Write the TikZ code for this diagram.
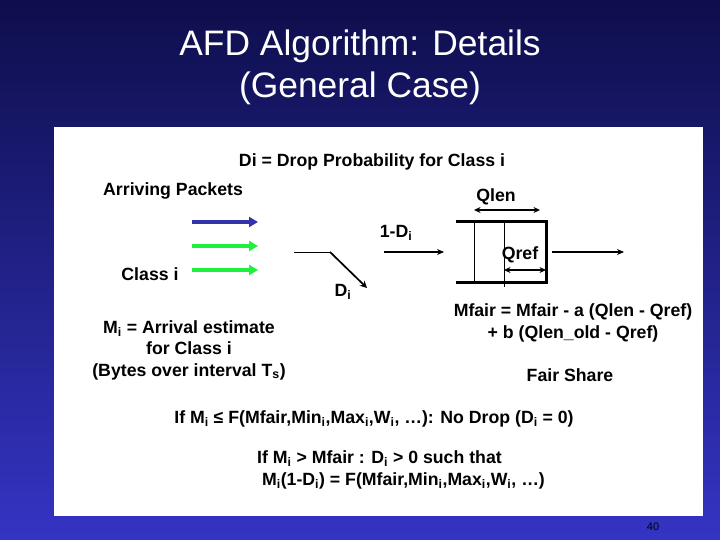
\documentclass[tikz,border=0pt]{standalone}
\usepackage{fontspec}
\setmainfont{Liberation Sans}
\usetikzlibrary{arrows.meta,positioning}
\definecolor{slidetop}{RGB}{14,14,76}
\definecolor{slidebot}{RGB}{52,52,196}
\definecolor{pktblue}{RGB}{52,52,170}
\definecolor{pktgreen}{RGB}{30,240,60}
\tikzset{
  txt/.style={font=\fontsize{17.7pt}{21.5pt}\selectfont\bfseries,align=center,inner sep=0pt},
  head/.style={font=\fontsize{35.4pt}{42pt}\selectfont,text=white,align=center,inner sep=0pt},
  pkt/.style={line width=3.4pt,-{Triangle[length=9pt,width=10pt]}},
  thin arrow/.style={line width=1.1pt,-{Stealth[length=7pt,width=6pt]}},
  both arrow/.style={line width=1.6pt,{Stealth[length=6.5pt,width=6pt]}-{Stealth[length=6.5pt,width=6pt]}},
  wall/.style={line width=3pt}
}
\begin{document}
\begin{tikzpicture}[x=1pt,y=-1pt]
\useasboundingbox (0,0) rectangle (720,540);
\shade[top color=slidetop,bottom color=slidebot] (0,0) rectangle (720,540);
\fill[white] (54,127) rectangle (703,516);
% title
\node[head] (title) at (360,67) {AFD Algorithm: Details\\(General Case)};
% labels
\node[txt] (drop) at (372,162) {Di = Drop Probability for Class i};
\node[txt,anchor=west] (arriving) at (103,191) {Arriving Packets};
\node[txt] (qlen) at (496,197) {Qlen};
\node[txt] (oneminus) at (396,233) {1-D\textsubscript{i}};
\node[txt] (qref) at (520,255) {Qref};
\node[txt] (classi) at (150,274) {Class i};
\node[txt] (di) at (343,292) {D\textsubscript{i}};
\node[txt] (arrival) at (189,350) {M\textsubscript{i} = Arrival estimate\\for Class i\\(Bytes over interval T\textsubscript{s})};
\node[txt] (mfair) at (573,323) {Mfair = Mfair - a (Qlen - Qref)\\+ b (Qlen\_old - Qref)};
\node[txt] (fair) at (570,375) {Fair Share};
\node[txt] (nodrop) at (374,419) {If M\textsubscript{i} ≤ F(Mfair,Min\textsubscript{i},Max\textsubscript{i},W\textsubscript{i}, \dots): No Drop (D\textsubscript{i} = 0)};
\node[txt,align=left,anchor=west] (such) at (257,470) {If M\textsubscript{i} > Mfair : D\textsubscript{i} > 0 such that\\ \ M\textsubscript{i}(1-D\textsubscript{i}) = F(Mfair,Min\textsubscript{i},Max\textsubscript{i},W\textsubscript{i}, \dots)};
\node[font=\fontsize{11pt}{13pt}\selectfont,inner sep=0pt] (page) at (653,527) {40};
% arriving packets
\coordinate (a1) at (192,222); \coordinate (b1) at (258,222);
\coordinate (a2) at (192,246); \coordinate (b2) at (258,246);
\coordinate (a3) at (192,270); \coordinate (b3) at (258,270);
\draw[pkt,pktblue] (a1) -- (b1);
\draw[pkt,pktgreen] (a2) -- (b2);
\draw[pkt,pktgreen] (a3) -- (b3);
% drop switch
\coordinate (sw0) at (294,252); \coordinate (sw1) at (330,252); \coordinate (sw2) at (367,288);
\draw[line width=1pt] (sw0) -- (sw1);
\draw[line width=1.7pt,-{Stealth[length=7pt,width=7pt]}] (sw1) -- (sw2);
% queue
\coordinate (q1) at (456,222); \coordinate (q2) at (546,222);
\coordinate (q3) at (546,282); \coordinate (q4) at (456,282);
\draw[wall] (q1) -- (q2) -- (q3) -- (q4);
\coordinate (l1) at (474.5,222); \coordinate (l2) at (474.5,282);
\coordinate (r1) at (504,222); \coordinate (r2) at (504,287);
\draw[line width=1pt] (l1) -- (l2);
\draw[line width=1pt] (r1) -- (r2);
\coordinate (in0) at (384,252); \coordinate (in1) at (444,252);
\draw[thin arrow] (in0) -- (in1);
\coordinate (out0) at (552,252); \coordinate (out1) at (624,252);
\draw[thin arrow] (out0) -- (out1);
\coordinate (ql0) at (474,210); \coordinate (ql1) at (540,210);
\draw[both arrow] (ql0) -- (ql1);
\coordinate (qr0) at (504,270); \coordinate (qr1) at (546,270);
\draw[both arrow] (qr0) -- (qr1);
\end{tikzpicture}
\end{document}
